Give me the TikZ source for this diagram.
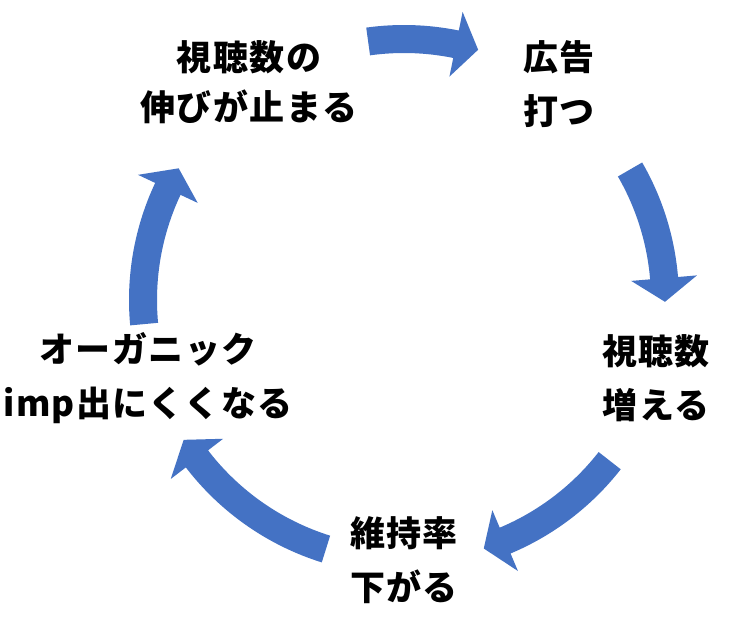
\documentclass[tikz,border=0pt]{standalone}
\usepackage{fontspec}
\newfontfamily\jpfont[LetterSpace=4]{Noto Sans CJK JP}
\usetikzlibrary{calc}
\definecolor{cycleblue}{HTML}{4472C4}
\newcommand{\cycarrow}[3]{%
  \fill[cycleblue] ($(C)+(#1:275pt)$) arc[start angle=#1, end angle=#2, radius=275pt]
    -- ($(C)+(#2:294pt)$) -- ($(C)+(#3:261pt)$) -- ($(C)+(#2:228pt)$)
    -- ($(C)+(#2:247pt)$) arc[start angle=#2, end angle=#1, radius=247pt] -- cycle;}
\begin{document}
\begin{tikzpicture}[x=1pt,y=1pt,
  lbl/.style={align=center, inner sep=0pt, font=\jpfont\bfseries\fontsize{35}{54}\selectfont, text=black}]
\useasboundingbox (0,0) rectangle (750,626);
\fill[white] (0,0) rectangle (750,626);
\coordinate (C) at (404,326);
\cycarrow{97.9}{78.5}{73.5}
\cycarrow{30}{4.8}{-0.4}
\cycarrow{-38}{-67.2}{-72.2}
\cycarrow{-107.4}{-142.5}{-147.6}
\cycarrow{185.3}{154.8}{149.7}
\node[lbl, font=\jpfont\bfseries\fontsize{35}{50}\selectfont] (a) at (249,544) {視聴数の\\伸びが止まる};
\node[lbl] (b) at (559,542) {広告\\打つ};
\node[lbl] (c) at (656,248) {視聴数\\増える};
\node[lbl] (d) at (404,66) {維持率\\下がる};
\node[lbl] (e) at (148,248) {オーガニック\\imp出にくくなる};
\end{tikzpicture}
\end{document}
